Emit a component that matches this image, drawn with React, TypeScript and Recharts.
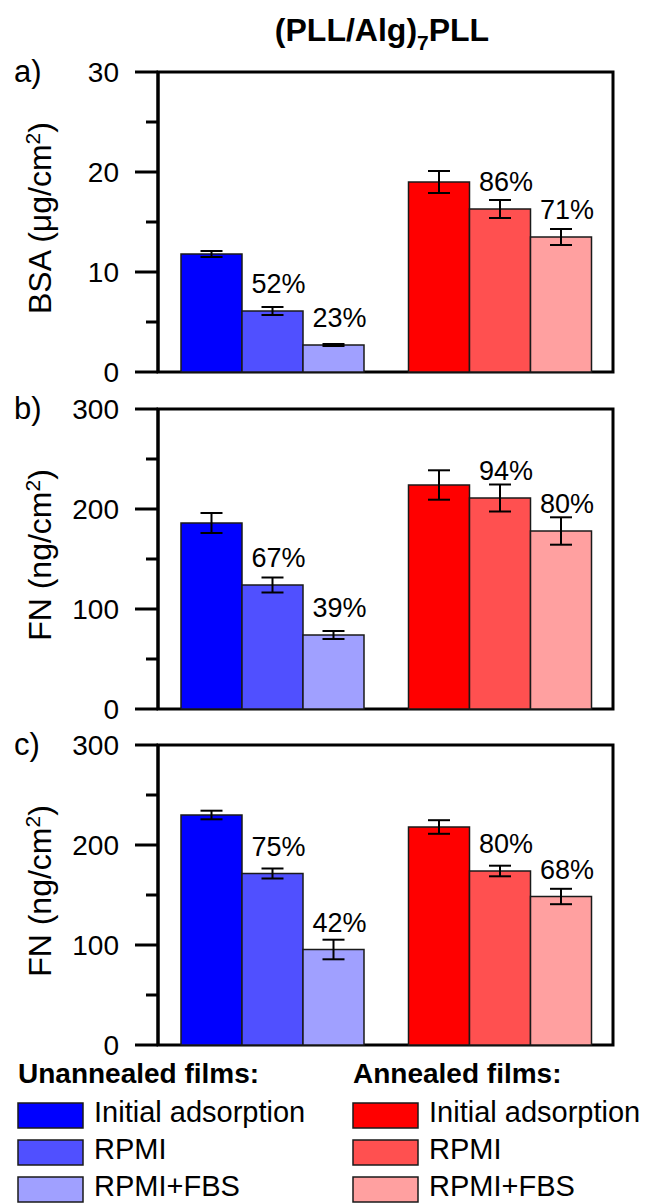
import React from 'react';
import { BarChart, Bar, XAxis, YAxis, Cell, ErrorBar, LabelList, ReferenceArea } from 'recharts';

const FONT = '"Liberation Sans", Arial, Helvetica, sans-serif';

// Categories and series
const groups = ['Unannealed films', 'Annealed films'];
const seriesNames = ['Initial adsorption', 'RPMI', 'RPMI+FBS'];
const blueColors = ['#0000FF', '#5050FF', '#A0A0FF'];
const redColors = ['#FF0000', '#FF5050', '#FFA0A0'];

// Panel a) BSA (µg/cm²)
const bsaInitial = [11.8, 19.0];
const bsaRpmi = [6.1, 16.3];
const bsaRpmiFbs = [2.7, 13.5];
const bsaInitialErr = [0.3, 1.1];
const bsaRpmiErr = [0.4, 0.9];
const bsaRpmiFbsErr = [0.1, 0.8];
const bsaRpmiPct = ['52%', '86%'];
const bsaRpmiFbsPct = ['23%', '71%'];
const bsaTicks = [0, 5, 10, 15, 20, 25, 30];
const bsaMajorTicks = [0, 10, 20, 30];

// Panel b) FN (ng/cm²)
const fnbInitial = [186, 224];
const fnbRpmi = [124, 211];
const fnbRpmiFbs = [74, 178];
const fnbInitialErr = [10, 14.7];
const fnbRpmiErr = [7.5, 13.5];
const fnbRpmiFbsErr = [4, 13.7];
const fnbRpmiPct = ['67%', '94%'];
const fnbRpmiFbsPct = ['39%', '80%'];

// Panel c) FN (ng/cm²)
const fncInitial = [230, 218];
const fncRpmi = [171.5, 174];
const fncRpmiFbs = [95.5, 148.5];
const fncInitialErr = [4.3, 6.8];
const fncRpmiErr = [5, 5.3];
const fncRpmiFbsErr = [9.8, 7.7];
const fncRpmiPct = ['75%', '80%'];
const fncRpmiFbsPct = ['42%', '68%'];

const fnTicks = [0, 50, 100, 150, 200, 250, 300];
const fnMajorTicks = [0, 100, 200, 300];

function buildRows(s0, s1, s2, e0, e1, e2, p1, p2) {
  return groups.map((g, i) => ({
    group: g,
    s0: s0[i], s1: s1[i], s2: s2[i],
    e0: e0[i], e1: e1[i], e2: e2[i],
    p1: p1[i], p2: p2[i],
  }));
}

const bsaRows = buildRows(bsaInitial, bsaRpmi, bsaRpmiFbs, bsaInitialErr, bsaRpmiErr, bsaRpmiFbsErr, bsaRpmiPct, bsaRpmiFbsPct);
const fnbRows = buildRows(fnbInitial, fnbRpmi, fnbRpmiFbs, fnbInitialErr, fnbRpmiErr, fnbRpmiFbsErr, fnbRpmiPct, fnbRpmiFbsPct);
const fncRows = buildRows(fncInitial, fncRpmi, fncRpmiFbs, fncInitialErr, fncRpmiErr, fncRpmiFbsErr, fncRpmiPct, fncRpmiFbsPct);

const PANEL_TOPS = [72, 409, 745];
const CHART_H = 370;
const MARGIN_TOP = 50;

const PctLabel = (props: any) => {
  const { x, y, width, value } = props;
  if (value === undefined || value === null || value === '') return null;
  return (
    <text x={Number(x) + Number(width) / 2 + 6} y={Number(y) - 18} textAnchor="middle"
      fontSize={27} fontFamily={FONT} fill="#000">{value}</text>
  );
};

function makeTick(major: number[]) {
  return (props: any) => {
    const { x, y, payload } = props;
    const isMajor = major.includes(payload.value);
    return (
      <g>
        <line x1={x - (isMajor ? 23 : 12)} x2={x} y1={y} y2={y} stroke="#000" strokeWidth={3} />
        {isMajor && (
          <text x={x - 39} y={y} dy="0.34em" textAnchor="end" fontSize={28} fontFamily={FONT} fill="#000">
            {payload.value}
          </text>
        )}
      </g>
    );
  };
}

function Panel({ top, rows, domain, ticks, major }) {
  const axisLine = { stroke: '#000', strokeWidth: 3 };
  const seriesKeys = ['s0', 's1', 's2'];
  const errKeys = ['e0', 'e1', 'e2'];
  return (
    <div style={{ position: 'absolute', left: 0, top: top - MARGIN_TOP }}>
      <BarChart width={645} height={CHART_H} data={rows}
        margin={{ top: MARGIN_TOP, right: 32, bottom: 20, left: 0 }}
        barCategoryGap={23} barGap={0}>
        <XAxis xAxisId="bottom" dataKey="group" tick={false} tickLine={false} axisLine={axisLine} height={0} />
        <YAxis yAxisId="left" type="number" domain={domain} ticks={ticks} interval={0} width={158}
          tickSize={0} tickMargin={0} tickLine={false} axisLine={axisLine} tick={makeTick(major)} />
        <ReferenceArea xAxisId="bottom" yAxisId="left" y1={domain[0]} y2={domain[1]}
          fill="none" fillOpacity={0} stroke="#000" strokeWidth={3} />
        {seriesKeys.map((k, si) => (
          <Bar key={k} dataKey={k} xAxisId="bottom" yAxisId="left" isAnimationActive={false}
            stroke="#1a1a1a" strokeWidth={1.5}>
            {rows.map((r, gi) => (
              <Cell key={gi} fill={gi === 0 ? blueColors[si] : redColors[si]} />
            ))}
            <ErrorBar dataKey={errKeys[si]} width={11} stroke="#000" strokeWidth={2} direction="y" />
            {si > 0 && <LabelList dataKey={si === 1 ? 'p1' : 'p2'} content={PctLabel} />}
          </Bar>
        ))}
      </BarChart>
    </div>
  );
}

const yTitles = [
  { main: 'BSA (\u03BCg/cm', tail: ')' },
  { main: 'FN (ng/cm', tail: ')' },
  { main: 'FN (ng/cm', tail: ')' },
];
const panelLetters = ['a)', 'b)', 'c)'];

function Overlay() {
  return (
    <svg width={645} height={1203} style={{ position: 'absolute', left: 0, top: 0, pointerEvents: 'none' }}
      fontFamily={FONT}>
      <text x={382} y={41} textAnchor="middle" fontWeight="bold" fontSize={32} fill="#000">
        (PLL/Alg)<tspan dy={9} fontSize={21}>7</tspan><tspan dy={-9}>PLL</tspan>
      </text>
      {PANEL_TOPS.map((t, i) => (
        <g key={i}>
          <text x={14} y={t + 10} fontSize={31} fill="#000">{panelLetters[i]}</text>
          <text transform={`translate(51, ${t + 146}) rotate(-90)`} textAnchor="middle" fontSize={32} fill="#000">
            {yTitles[i].main}<tspan dy={-11} fontSize={21}>2</tspan><tspan dy={11}>{yTitles[i].tail}</tspan>
          </text>
        </g>
      ))}
      {groups.map((g, gi) => {
        const x0 = gi === 0 ? 18 : 353;
        const colors = gi === 0 ? blueColors : redColors;
        return (
          <g key={g}>
            <text x={x0} y={1083} fontWeight="bold" fontSize={28} fill="#000">{g}:</text>
            {seriesNames.map((s, si) => (
              <g key={s}>
                <rect x={x0} y={1103 + si * 37} width={65} height={25} fill={colors[si]} stroke="#1a1a1a" strokeWidth={1.5} />
                <text x={x0 + 76} y={1122 + si * 37} fontSize={29} fill="#000">{s}</text>
              </g>
            ))}
          </g>
        );
      })}
    </svg>
  );
}

export default function App() {
  return (
    <div style={{ position: 'absolute', left: 0, top: 0, width: 645, height: 1203, background: '#fff', overflow: 'hidden' }}>
      <Panel top={PANEL_TOPS[0]} rows={bsaRows} domain={[0, 30]} ticks={bsaTicks} major={bsaMajorTicks} />
      <Panel top={PANEL_TOPS[1]} rows={fnbRows} domain={[0, 300]} ticks={fnTicks} major={fnMajorTicks} />
      <Panel top={PANEL_TOPS[2]} rows={fncRows} domain={[0, 300]} ticks={fnTicks} major={fnMajorTicks} />
      <Overlay />
    </div>
  );
}
